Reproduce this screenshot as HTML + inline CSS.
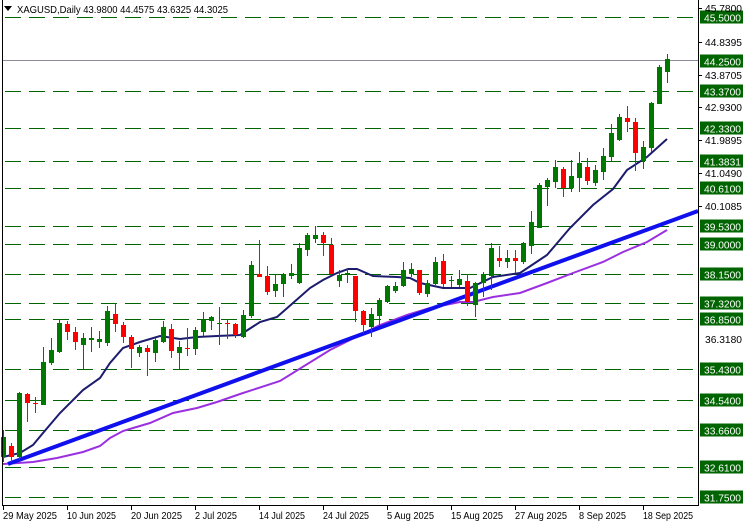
<!DOCTYPE html>
<html><head><meta charset="utf-8"><style>
body{margin:0;background:#fff;width:744px;height:527px;overflow:hidden;font-family:"Liberation Sans",sans-serif}
svg text{font-family:"Liberation Sans",sans-serif;font-size:10.5px}
</style></head><body>
<svg id="s" width="744" height="527" xmlns="http://www.w3.org/2000/svg">
<rect width="744" height="527" fill="#fff"/>
<g id="grid" stroke="#006400" stroke-width="1" stroke-dasharray="16 8"></g>
<line x1="2" y1="60.5" x2="698" y2="60.5" stroke="#8c8c9c" stroke-width="1"/>
<polyline fill="none" stroke="#9b30e0" stroke-width="2" points="3,464 33,462 57,458 83,452 100,446 110,438 123,431 150,423 173,413 197,408 217,402 240,394 280,381 330,350 380,325 407,315 430,308 460,302 473,302 493,297 520,293 547,283 573,273 603,262 623,252 647,242 667,230"/>
<line x1="8" y1="464" x2="698" y2="211" stroke="#1010ee" stroke-width="4"/>
<polyline fill="none" stroke="#1c1c6e" stroke-width="2" points="3,457 20,453 33,445 43,433 60,413 83,390 100,378 110,363 123,348 140,342 160,336 180,339 197,337 217,336 240,335 260,322 277,317 293,303 310,288 323,280 337,273 348,269 357,269 373,276 397,277 410,278 420,283 443,288 470,288 493,277 520,273 547,255 570,228 593,205 613,189 627,170 647,157 667,139"/>
<g id="c"></g>
<line x1="2.5" y1="0" x2="2.5" y2="506" stroke="#000"/>
<line x1="698.5" y1="0" x2="698.5" y2="506" stroke="#000"/>
<line x1="2" y1="505.5" x2="699" y2="505.5" stroke="#000"/>
<g id="lab"></g>
<polygon points="4,6 12,6 8,11" fill="#000"/>
<text x="17" y="13" fill="#000" textLength="211" lengthAdjust="spacingAndGlyphs">XAGUSD,Daily  43.9800 44.4575 43.6325 44.3025</text>
<g fill="#000" lengthAdjust="spacingAndGlyphs">
<text x="3" y="519" textLength="54" lengthAdjust="spacingAndGlyphs">29 May 2025</text>
<text x="67" y="519" textLength="49" lengthAdjust="spacingAndGlyphs">10 Jun 2025</text>
<text x="131" y="519" textLength="51" lengthAdjust="spacingAndGlyphs">20 Jun 2025</text>
<text x="195" y="519" textLength="42" lengthAdjust="spacingAndGlyphs">2 Jul 2025</text>
<text x="259" y="519" textLength="46" lengthAdjust="spacingAndGlyphs">14 Jul 2025</text>
<text x="323" y="519" textLength="46" lengthAdjust="spacingAndGlyphs">24 Jul 2025</text>
<text x="387" y="519" textLength="47" lengthAdjust="spacingAndGlyphs">5 Aug 2025</text>
<text x="451" y="519" textLength="52" lengthAdjust="spacingAndGlyphs">15 Aug 2025</text>
<text x="515" y="519" textLength="52" lengthAdjust="spacingAndGlyphs">27 Aug 2025</text>
<text x="579" y="519" textLength="47" lengthAdjust="spacingAndGlyphs">8 Sep 2025</text>
<text x="643" y="519" textLength="50" lengthAdjust="spacingAndGlyphs">18 Sep 2025</text>
<text x="705" y="12" textLength="37" lengthAdjust="spacingAndGlyphs">45.7800</text>
<text x="705" y="46" textLength="37" lengthAdjust="spacingAndGlyphs">44.8395</text>
<text x="705" y="79" textLength="37" lengthAdjust="spacingAndGlyphs">43.8705</text>
<text x="705" y="111" textLength="37" lengthAdjust="spacingAndGlyphs">42.9300</text>
<text x="705" y="144" textLength="37" lengthAdjust="spacingAndGlyphs">41.9895</text>
<text x="705" y="177" textLength="37" lengthAdjust="spacingAndGlyphs">41.0490</text>
<text x="705" y="210" textLength="37" lengthAdjust="spacingAndGlyphs">40.1085</text>
<text x="705" y="343" textLength="37" lengthAdjust="spacingAndGlyphs">36.3180</text>
</g>
<g id="tk" stroke="#000"></g>
</svg>
<script>
var NS="http://www.w3.org/2000/svg";
function el(p,t,a){var e=document.createElementNS(NS,t);for(var k in a)e.setAttribute(k,a[k]);p.appendChild(e);return e;}
var lv=[[17,"45.5000"],[60.6,"44.2500"],[91.4,"43.3700"],[127.7,"42.3300"],[160.8,"41.3831"],[187.8,"40.6100"],[225.5,"39.5300"],[244,"39.0000"],[273.7,"38.1500"],[302.6,"37.3200"],[319,"36.8500"],[368.6,"35.4300"],[399.7,"34.5400"],[430.4,"33.6600"],[467,"32.6100"],[497,"31.7500"]];
var g=document.getElementById("grid"),lab=document.getElementById("lab");
lv.forEach(function(l){var y=Math.round(l[0])+0.5;
 if(l[1]!="44.2500")el(g,"line",{x1:5,y1:y,x2:698,y2:y});
 el(lab,"rect",{x:700,y:y-7,width:43,height:13,fill:"#006400"});
 var t=el(lab,"text",{x:704,y:y+4,fill:"#fff",textLength:37,lengthAdjust:"spacingAndGlyphs"});t.textContent=l[1];});
var tk=document.getElementById("tk");
[8,42,75,107,140,173,206].forEach(function(y){el(tk,"line",{x1:698,y1:y+.5,x2:702,y2:y+.5});});
[3,67,131,195,259,323,387,451,515,579,643].forEach(function(x){el(tk,"line",{x1:x+.5,y1:506,x2:x+.5,y2:510});});
var d=[[437,457,430,462,1],[446,457,443,462,0],[393,457,392,460,1],[394,403,393,422,0],[403,404,397,413,0],[362,405,347,405,1],[350,363,338,365,1],[323,352,319,353,1],[324,332,321,340,0],[332,342,327,350,0],[338,345,333,369,1],[338,340,327,352,1],[339,342,331,348,1],[311,343,306,346,1],[314,324,303,332,0],[325,337,322,343,0],[337,349,335,368,0],[347,353,345,357,1],[348,352,345,376,0],[340,353,338,362,1],[327,342,321,343,1],[329,351,324,358,0],[347,353,341,370,1],[348,349,328,356,0],[330,349,327,355,1],[320,332,312,336,1],[317,321,316,330,1],[323,324,307,345,1],[323,324,319,339,0],[324,335,323,338,0],[315,337,310,338,1],[265,316,261,318,1],[274,277,240,277,0],[276,292,266,295,0],[284,291,275,297,1],[274,284,273,297,1],[273,276,264,279,1],[248,283,243,284,1],[235,250,233,256,1],[235,239,226,243,1],[235,243,232,256,0],[245,274,238,275,0],[275,281,270,287,1],[273,274,268,283,1],[276,311,276,322,0],[311,325,310,333,0],[314,327,308,337,1],[300,316,298,325,1],[286,302,285,303,1],[286,291,282,293,1],[270,286,262,287,1],[269,274,263,277,1],[270,293,270,295,0],[283,294,280,297,1],[262,284,257,285,1],[261,284,254,287,0],[280,281,276,287,1],[279,285,270,287,1],[281,302,274,306,0],[283,305,282,317,1],[274,283,272,297,1],[248,276,243,290,1],[258,261,246,267,0],[258,262,250,268,1],[258,261,250,273,0],[243,262,242,264,1],[222,246,211,254,1],[185,228,183,228,1],[180,187,178,206,1],[167,182,160,188,1],[169,188,167,197,0],[176,188,160,192,1],[163,178,152,192,1],[167,181,158,185,0],[170,183,165,186,1],[156,172,148,180,1],[133,157,124,161,1],[117,140,114,141,1],[118,122,106,132,0],[122,153,118,171,0],[147,161,141,169,1],[103,148,102,152,1],[67,104,65,104,1],[59,72,54,83,1]];
var c=document.getElementById("c");
d.forEach(function(k,i){var x=3+8*i,col=k[4]?"#007800":"#ff0000";
 el(c,"line",{x1:x+.5,y1:k[2],x2:x+.5,y2:k[3],stroke:col});
 el(c,"rect",{x:x-2,y:k[0],width:5,height:Math.max(1,k[1]-k[0]),fill:col});});
</script>
</body></html>
